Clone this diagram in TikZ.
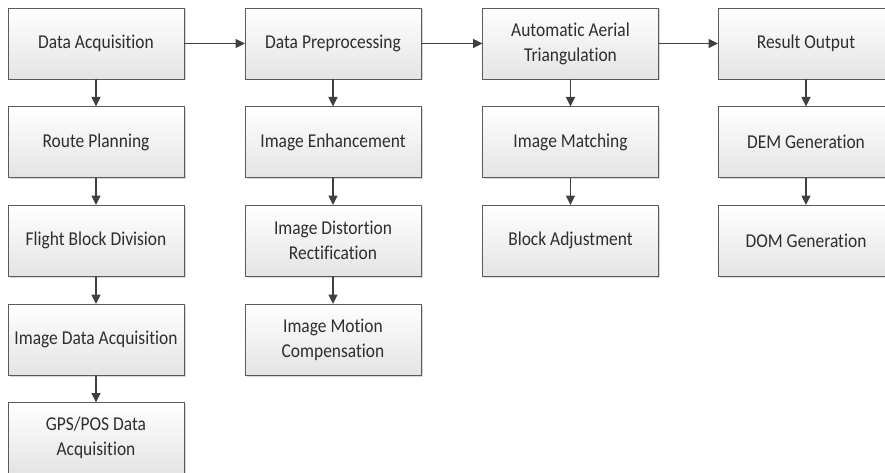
\documentclass[tikz,border=0pt]{standalone}
\usepackage{fontspec}
\setmainfont{Carlito}[FakeStretch=0.89, Ligatures=NoCommon]
\usepackage{tikz}
\usepackage{xcolor}
\usetikzlibrary{arrows.meta, positioning, shadows}
\definecolor{BoxLine}{HTML}{5A5A5A}
\definecolor{BoxBottom}{HTML}{E4E4E4}
\definecolor{ArrowGray}{HTML}{404040}
\definecolor{TextGray}{HTML}{2E2E2E}

\begin{document}
\begin{tikzpicture}[x=1pt, y=-1pt,
        stagebox/.style={draw=BoxLine, line width=0.9pt, top color=white, bottom color=BoxBottom,
            minimum width=176pt, minimum height=71pt, inner sep=0pt, outer sep=0pt,
            align=center, text=TextGray, font=\fontsize{19.6}{25}\selectfont,
            drop shadow={shadow xshift=1.5pt, shadow yshift=-1.5pt, fill=gray!60, opacity=0.5}},
        flow/.style={-{Triangle[length=9.5pt, width=9pt]}, ArrowGray, line width=1.1pt}]

        % --- 1. Canvas ---
        \useasboundingbox (0,0) rectangle (885,473);

        % --- 2. Data acquisition column ---
        \node[stagebox] (acq)   at (96, 43.5)  {Data Acquisition};
        \node[stagebox] (route) at (96, 142)   {Route Planning};
        \node[stagebox] (block) at (96, 240.5) {Flight Block Division};
        \node[stagebox] (image) at (96, 339.5) {Image Data Acquisition};
        \node[stagebox] (gps)   at (96, 438)   {GPS/POS Data\\Acquisition};

        % --- 3. Preprocessing column ---
        \node[stagebox] (prep)    at (333, 43.5)  {Data Preprocessing};
        \node[stagebox] (enhance) at (333, 142)   {Image Enhancement};
        \node[stagebox] (distort) at (333, 240.5) {Image Distortion\\Rectification};
        \node[stagebox] (motion)  at (333, 339.5) {Image Motion\\Compensation};

        % --- 4. Triangulation column ---
        \node[stagebox] (aat)   at (570.5, 43.5)  {Automatic Aerial\\Triangulation};
        \node[stagebox] (match) at (570.5, 142)   {Image Matching};
        \node[stagebox] (adjust) at (570.5, 240.5) {Block Adjustment};

        % --- 5. Output column ---
        \node[stagebox] (result) at (806, 43.5)  {Result Output};
        \node[stagebox] (dem)    at (806, 142)   {DEM Generation};
        \node[stagebox] (dom)    at (806, 240.5) {DOM Generation};

        % Main flow
        \draw[flow] (acq) -- (prep);
        \draw[flow] (prep) -- (aat);
        \draw[flow] (aat) -- (result);

        % Sub steps
        \draw[flow] (acq) -- (route);
        \draw[flow] (route) -- (block);
        \draw[flow] (block) -- (image);
        \draw[flow] (image) -- (gps);
        \draw[flow] (prep) -- (enhance);
        \draw[flow] (enhance) -- (distort);
        \draw[flow] (distort) -- (motion);
        \draw[flow] (aat) -- (match);
        \draw[flow] (match) -- (adjust);
        \draw[flow] (result) -- (dem);
        \draw[flow] (dem) -- (dom);

    \end{tikzpicture}
\end{document}
